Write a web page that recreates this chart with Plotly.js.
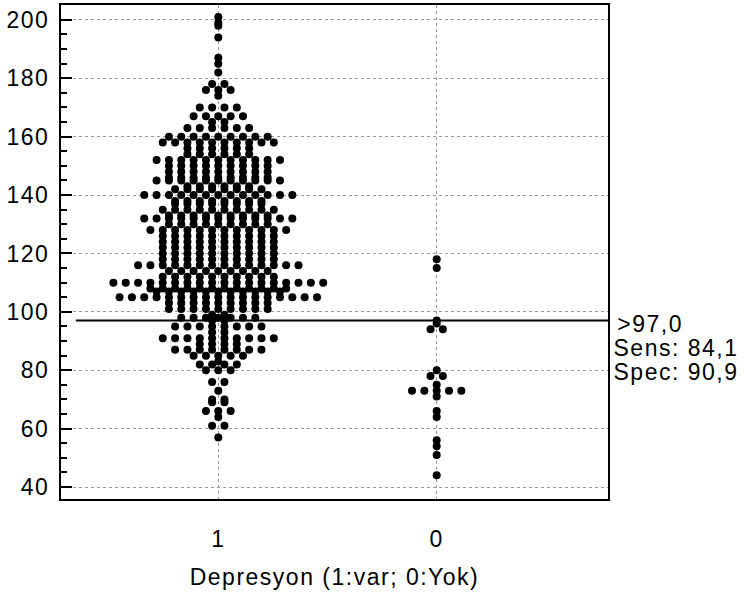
<!DOCTYPE html>
<html>
<head>
<meta charset="utf-8">
<script src="https://cdn.plot.ly/plotly-3.0.1.min.js"></script>
<style>
html,body{margin:0;padding:0;background:#fff;}
#chart{width:747px;height:596px;}
#chart text{letter-spacing:1.5px;}
</style>
</head>
<body>
<div id="chart"></div>
<script>
// Categories (x axis) and their labels
const categories = ['1', '0'];
const xTitle = 'Depresyon (1:var; 0:Yok)';

// Group "1" (Depresyon var): distinct values and how many dots each value has
const levels1 = [201,199,198,194,187,185,182,178,176,174,170,167,165,163,160,158,156,154,152,150,148,146,145,143,142,140,138,137,135,133,132,130,128,126,124,122,120,118,116,114,112,110,108,107,105,103,101,99,98,
                 97,95,93,91,89,87,85,83,82,80,76,73,70,69,66,64,61,57];
const counts1 = [1,1,1,1,1,1,1,2,3,1,4,5,2,6,9,10,6,6,11,9,9,9,11,6,8,13,8,8,10,9,13,9,12,10,10,10,10,10,14,9,10,18,12,11,17,9,9,2,7,
                 2,8,2,10,4,8,5,1,4,3,2,1,2,2,3,1,2,1];

// Group "0" (Depresyon yok): individual values
const values0 = [118,115,97,96,94,94,80,78,78,75,73,73,73,73,73,71,66,64,56,54,51,44];

// Criterion and its statistics
const criterion = 97;
const statLines = ['>97,0', 'Sens: 84,1', 'Spec: 90,9'];

// y axis ticks
const yTicks = [40,60,80,100,120,140,160,180,200];

// ---- build dot-plot positions (dots with identical values placed side by side)
const step = 0.0565;
function swarmFromLevels(levels, counts, center) {
  const xs = [], ys = [];
  levels.forEach((v, k) => {
    const n = counts[k];
    for (let i = 0; i < n; i++) {
      xs.push(center + (i - (n - 1) / 2) * step);
      ys.push(v);
    }
  });
  return {xs, ys};
}
function levelsFromValues(values) {
  const m = new Map();
  values.forEach(v => m.set(v, (m.get(v) || 0) + 1));
  return {levels: [...m.keys()], counts: [...m.values()]};
}
const s1 = swarmFromLevels(levels1, counts1, 0);
const g0 = levelsFromValues(values0);
const s0 = swarmFromLevels(g0.levels, g0.counts, 1);

const font = 'Liberation Sans, Arial, Helvetica, sans-serif';
const fs = 23;
const marker = {color: '#000', size: 8, line: {width: 0}};

const traces = [
  {type: 'scatter', mode: 'markers', x: s1.xs, y: s1.ys, marker: marker, hoverinfo: 'y', cliponaxis: false},
  {type: 'scatter', mode: 'markers', x: s0.xs, y: s0.ys, marker: marker, hoverinfo: 'y', cliponaxis: false}
];

const layout = {
  width: 747, height: 596,
  margin: {l: 61, r: 139, t: 5, b: 97, pad: 0},
  paper_bgcolor: '#fff', plot_bgcolor: '#fff',
  showlegend: false,
  font: {family: font, size: fs, color: '#000'},
  xaxis: {
    range: [-0.7202, 1.7844],
    tickvals: [0, 1], ticktext: categories,
    ticks: '', ticklabelstandoff: 18,
    showgrid: true, gridcolor: '#999', griddash: 'dot', gridwidth: 1,
    zeroline: false,
    showline: true, linecolor: '#000', linewidth: 2, mirror: true,
    tickfont: {family: font, size: fs},
    title: {text: xTitle, font: {family: font, size: fs}, standoff: 18}
  },
  yaxis: {
    range: [35.9, 205.1],
    tickvals: yTicks,
    ticks: 'inside', ticklen: 11, tickwidth: 2, tickcolor: '#000',
    minor: {dtick: 5, tick0: 0, ticks: 'inside', ticklen: 6, tickwidth: 2, tickcolor: '#000', showgrid: false},
    showgrid: true, gridcolor: '#999', griddash: 'dot', gridwidth: 1,
    zeroline: false,
    showline: true, linecolor: '#000', linewidth: 2, mirror: true,
    ticklabelstandoff: 5,
    tickfont: {family: font, size: fs}
  },
  shapes: [
    {type: 'line', xref: 'paper', yref: 'y', x0: 0.027, x1: 1, y0: criterion, y1: criterion,
     line: {color: '#000', width: 2}}
  ],
  annotations: statLines.map((t, i) => ({
    text: t, xref: 'paper', yref: 'y', x: 1.02, y: criterion, yshift: -i * 24 - 3,
    xanchor: 'left', yanchor: 'middle', showarrow: false,
    font: {family: font, size: fs, color: '#000'}
  }))
};

Plotly.newPlot('chart', traces, layout, {displayModeBar: false, staticPlot: true});
</script>
</body>
</html>
